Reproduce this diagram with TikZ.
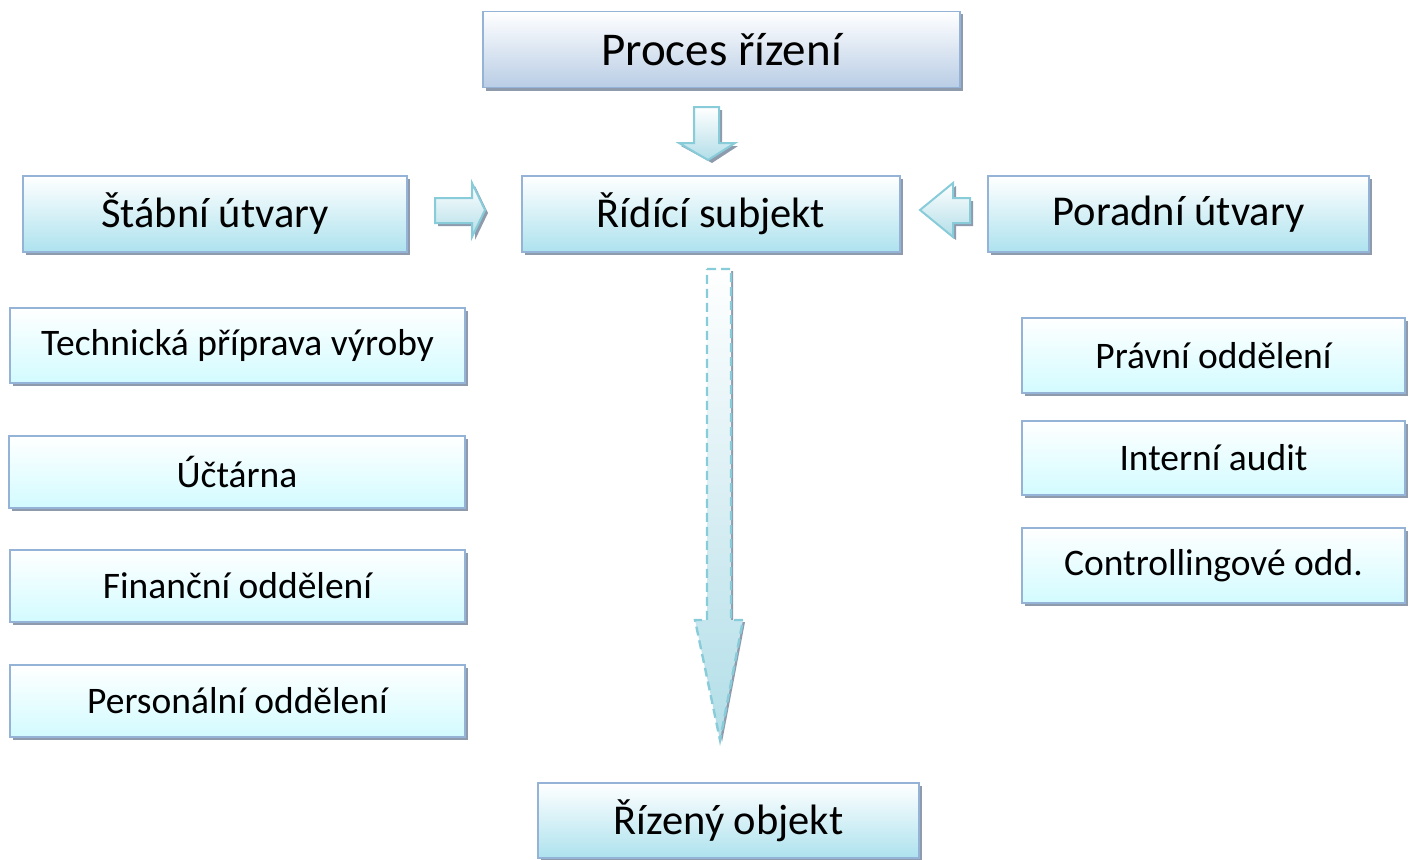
\documentclass[tikz,border=0pt]{standalone}
\usepackage{fontspec}
\setmainfont{Carlito}
\usetikzlibrary{shadows}
\definecolor{bordblue}{HTML}{95B3D7}
\definecolor{shadgray}{HTML}{8E9BAD}
\definecolor{procbot}{HTML}{B9CDE5}
\definecolor{cyanbot}{HTML}{ADE2EE}
\definecolor{lightbot}{HTML}{D2FBFF}
\definecolor{arrline}{HTML}{88CCDA}
\definecolor{arrbot}{HTML}{B2DEE8}
\tikzset{
  basebox/.style={draw=bordblue, line width=1.5pt, rectangle, inner sep=0pt,
    drop shadow={shadow xshift=3pt, shadow yshift=-3pt, fill=shadgray, opacity=1}},
  procbox/.style={basebox, top color=white, bottom color=procbot, font=\fontsize{47}{52}\selectfont},
  mainbox/.style={basebox, top color=white, bottom color=cyanbot, font=\fontsize{42.5}{48}\selectfont},
  subbox/.style={basebox, top color=white, bottom color=lightbot, font=\fontsize{37.5}{42}\selectfont},
  blockarrow/.style={draw=arrline, line width=2pt, top color=white, bottom color=arrbot},
  arrshadow/.style={fill=shadgray},
}
\begin{document}
\begin{tikzpicture}[x=1pt,y=-1pt]
\useasboundingbox (0,0) rectangle (1418,859);

\node[procbox, minimum width=477pt, minimum height=76pt] (proc) at (721.5,49.5) {Proces řízení};
\node[mainbox, minimum width=384pt, minimum height=76pt] (stab) at (215,214) {Štábní útvary};
\node[mainbox, minimum width=378pt, minimum height=76pt] (rid) at (711,214) {Řídící subjekt};
\node[mainbox, minimum width=381pt, minimum height=76pt] (por) at (1178.5,214) {Poradní útvary};

\node[subbox, minimum width=455pt, minimum height=75pt] (tech) at (237.5,345.5) {Technická příprava výroby};
\node[subbox, minimum width=456pt, minimum height=72pt] (uct) at (237,472) {Účtárna};
\node[subbox, minimum width=455pt, minimum height=72pt] (fin) at (237.5,586) {Finanční oddělení};
\node[subbox, minimum width=455pt, minimum height=72pt] (pers) at (237.5,701) {Personální oddělení};

\node[subbox, minimum width=383pt, minimum height=75pt] (prav) at (1213.5,355.5) {Právní oddělení};
\node[subbox, minimum width=383pt, minimum height=74pt] (int) at (1213.5,458) {Interní audit};
\node[subbox, minimum width=383pt, minimum height=75pt] (ctrl) at (1213.5,565.5) {Controllingové odd.};

\node[mainbox, minimum width=381pt, minimum height=75pt] (obj) at (728.5,820.5) {Řízený objekt};

% small down arrow (Proces -> Ridici)
\fill[arrshadow] (696,110) -- (722,110) -- (722,146) -- (738,146) -- (712,163) -- (681,146) -- (696,146) -- cycle;
\path[blockarrow] (694,107) -- (719,107) -- (719,143) -- (735,143) -- (708,160) -- (679,143) -- (694,143) -- cycle;

% right arrow (Stabni -> Ridici)
\fill[arrshadow] (438,201) -- (475,201) -- (475,186) -- (488,213) -- (475,240) -- (475,226) -- (438,226) -- cycle;
\path[blockarrow] (435,198) -- (472,198) -- (472,183) -- (485,210) -- (472,237) -- (472,223) -- (435,223) -- cycle;

% left arrow (Poradni -> Ridici)
\fill[arrshadow] (973,201) -- (956,201) -- (956,186) -- (923,213) -- (956,240) -- (956,226) -- (973,226) -- cycle;
\path[blockarrow] (970,198) -- (953,198) -- (953,183) -- (920,210) -- (953,237) -- (953,223) -- (970,223) -- cycle;

% big dashed arrow (Ridici -> Rizeny objekt)
\fill[arrshadow] (709,271) -- (733,271) -- (733,622) -- (745,622) -- (722,742) -- (697,622) -- (709,622) -- cycle;
\path[blockarrow, line width=2.4pt, dash pattern=on 9pt off 5pt] (707,269) -- (731,269) -- (731,620) -- (743,620) -- (720,740) -- (695,620) -- (707,620) -- cycle;
\end{tikzpicture}
\end{document}
